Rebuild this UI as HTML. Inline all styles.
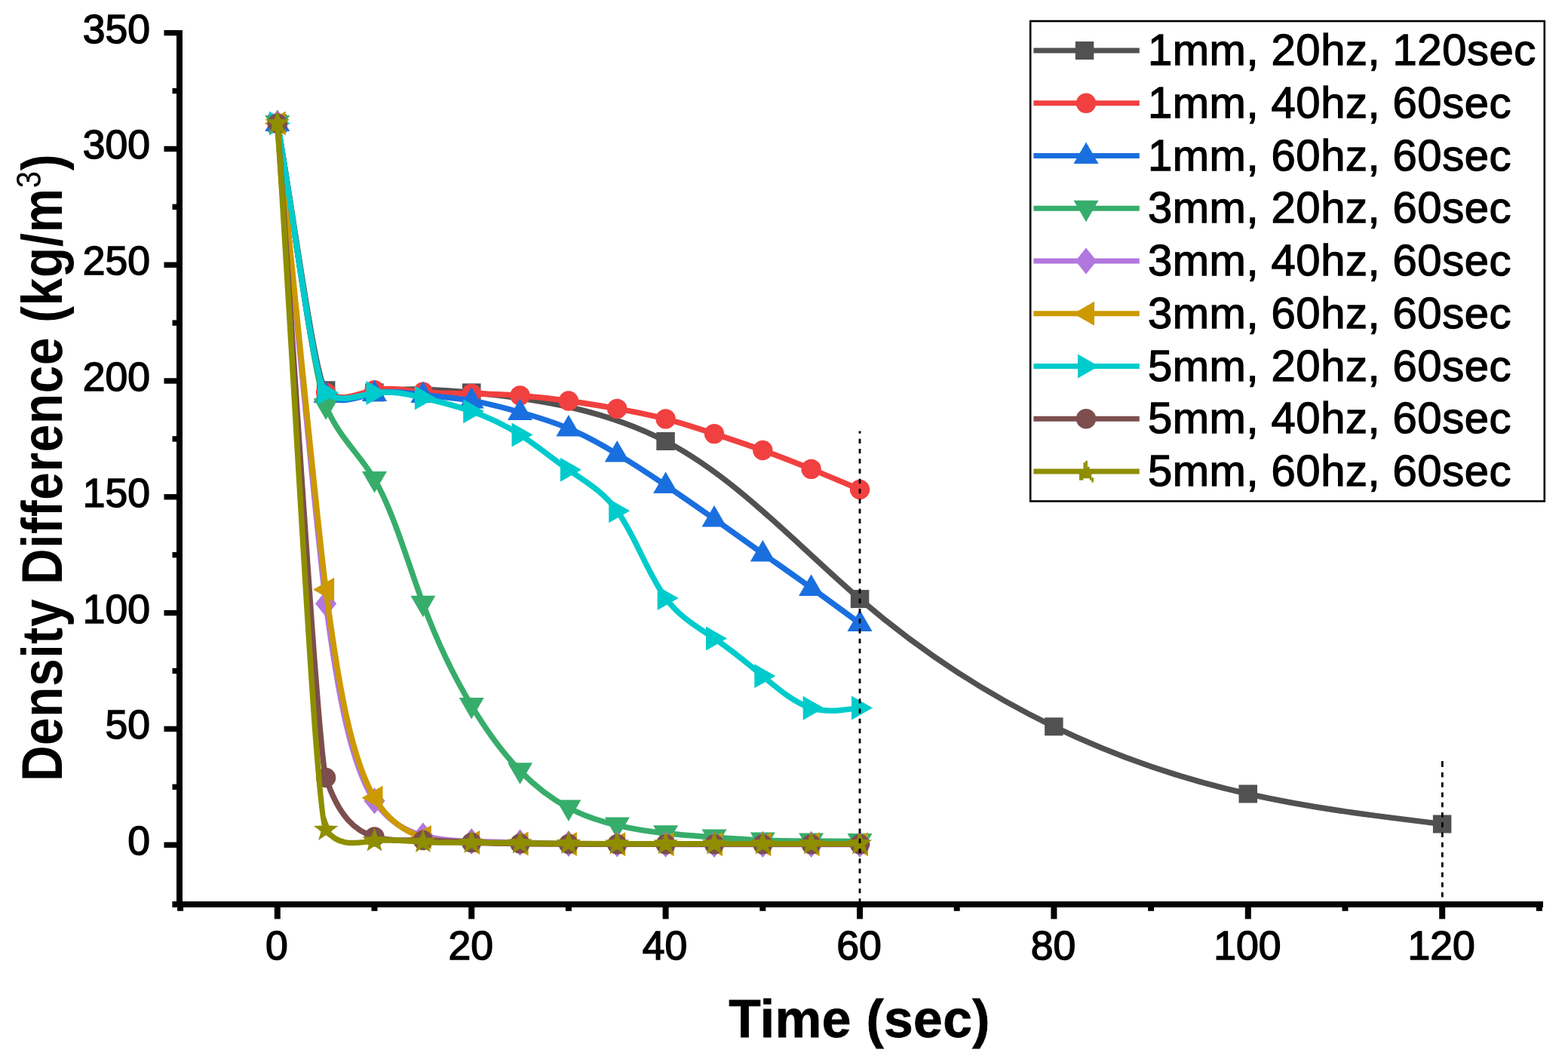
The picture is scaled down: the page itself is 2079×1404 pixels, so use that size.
<!DOCTYPE html><html><head><meta charset="utf-8"><title>Density Difference vs Time</title><style>html,body{margin:0;padding:0;background:#fff;}svg{display:block;}</style></head><body>
<svg width="2079" height="1404" viewBox="0 0 2079 1404" font-family='"Liberation Sans", Arial, sans-serif'>
<rect width="2079" height="1404" fill="#fff"/>
<path d="M367.8 163.6 C389.2 281.5 416.9 502.2 432.1 517.3 C449.2 534.2 471.2 525.1 496.5 520.4 C531.1 513.9 571.8 515.5 625.2 520.4 C699.1 527.2 797.3 540.4 882.6 585.0 C976.9 634.2 1055.7 721.7 1140.0 794.1 C1221.6 864.3 1308.4 920.4 1397.4 963.3 C1481.6 1004.0 1567.8 1032.9 1654.8 1052.5 C1740.1 1071.8 1826.1 1082.1 1912.2 1092.5" fill="none" stroke="#515151" stroke-width="7.5" stroke-linejoin="round"/>
<rect x="355.6" y="151.6" width="24.5" height="24" fill="#515151"/>
<rect x="419.9" y="505.3" width="24.5" height="24" fill="#515151"/>
<rect x="484.2" y="508.4" width="24.5" height="24" fill="#515151"/>
<rect x="613.0" y="508.4" width="24.5" height="24" fill="#515151"/>
<rect x="870.3" y="573.0" width="24.5" height="24" fill="#515151"/>
<rect x="1127.8" y="782.1" width="24.5" height="24" fill="#515151"/>
<rect x="1385.1" y="951.3" width="24.5" height="24" fill="#515151"/>
<rect x="1642.5" y="1040.5" width="24.5" height="24" fill="#515151"/>
<rect x="1899.9" y="1080.5" width="24.5" height="24" fill="#515151"/>
<path d="M367.8 163.6 C389.2 282.5 415.4 507.0 432.1 520.4 C450.3 534.9 474.2 521.6 496.5 517.3 C518.8 513.0 539.6 517.6 560.9 519.8 C582.1 521.9 603.7 521.7 625.2 521.9 C646.7 522.1 668.1 522.8 689.5 524.4 C711.0 526.0 732.5 528.4 753.9 531.5 C775.4 534.5 796.8 538.1 818.2 541.9 C839.8 545.8 861.3 549.9 882.6 555.4 C904.2 561.0 925.6 568.1 947.0 575.1 C968.4 582.2 989.9 589.3 1011.3 597.0 C1032.8 604.7 1054.3 613.1 1075.6 621.9 C1097.1 630.7 1118.6 639.8 1140.0 649.0" fill="none" stroke="#F14040" stroke-width="7.5" stroke-linejoin="round"/>
<circle cx="367.8" cy="163.6" r="13.2" fill="#F14040"/>
<circle cx="432.1" cy="520.4" r="13.2" fill="#F14040"/>
<circle cx="496.5" cy="517.3" r="13.2" fill="#F14040"/>
<circle cx="560.9" cy="519.8" r="13.2" fill="#F14040"/>
<circle cx="625.2" cy="521.9" r="13.2" fill="#F14040"/>
<circle cx="689.5" cy="524.4" r="13.2" fill="#F14040"/>
<circle cx="753.9" cy="531.5" r="13.2" fill="#F14040"/>
<circle cx="818.2" cy="541.9" r="13.2" fill="#F14040"/>
<circle cx="882.6" cy="555.4" r="13.2" fill="#F14040"/>
<circle cx="947.0" cy="575.1" r="13.2" fill="#F14040"/>
<circle cx="1011.3" cy="597.0" r="13.2" fill="#F14040"/>
<circle cx="1075.6" cy="621.9" r="13.2" fill="#F14040"/>
<circle cx="1140.0" cy="649.0" r="13.2" fill="#F14040"/>
<path d="M367.8 163.6 C389.2 283.5 415.6 509.8 432.1 523.5 C450.3 538.4 474.2 526.0 496.5 521.6 C518.8 517.2 539.6 520.9 560.9 523.5 C582.1 526.0 603.8 527.6 625.2 531.1 C646.8 534.8 668.2 540.5 689.5 546.5 C711.2 552.6 732.7 559.1 753.9 568.1 C775.7 577.3 797.1 589.1 818.2 601.9 C839.9 615.0 861.3 629.0 882.6 643.4 C904.1 658.0 925.6 672.9 947.0 688.0 C968.4 703.2 989.8 718.6 1011.3 733.9 C1032.7 749.0 1054.2 764.0 1075.6 779.4 C1097.2 794.8 1118.6 810.6 1140.0 826.4" fill="none" stroke="#1A6FDF" stroke-width="7.5" stroke-linejoin="round"/>
<polygon points="367.8,145.6 384.3,174.1 351.3,174.1" fill="#1A6FDF"/>
<polygon points="432.1,505.5 448.6,534.0 415.6,534.0" fill="#1A6FDF"/>
<polygon points="496.5,503.6 513.0,532.1 480.0,532.1" fill="#1A6FDF"/>
<polygon points="560.9,505.5 577.4,534.0 544.4,534.0" fill="#1A6FDF"/>
<polygon points="625.2,513.1 641.7,541.6 608.7,541.6" fill="#1A6FDF"/>
<polygon points="689.5,528.5 706.0,557.0 673.0,557.0" fill="#1A6FDF"/>
<polygon points="753.9,550.1 770.4,578.6 737.4,578.6" fill="#1A6FDF"/>
<polygon points="818.2,583.9 834.8,612.4 801.8,612.4" fill="#1A6FDF"/>
<polygon points="882.6,625.4 899.1,653.9 866.1,653.9" fill="#1A6FDF"/>
<polygon points="947.0,670.0 963.5,698.5 930.5,698.5" fill="#1A6FDF"/>
<polygon points="1011.3,715.9 1027.8,744.4 994.8,744.4" fill="#1A6FDF"/>
<polygon points="1075.6,761.4 1092.1,789.9 1059.1,789.9" fill="#1A6FDF"/>
<polygon points="1140.0,808.4 1156.5,836.9 1123.5,836.9" fill="#1A6FDF"/>
<path d="M367.8 163.6 C389.2 288.7 416.7 503.4 432.1 538.8 C451.2 582.7 476.0 600.7 496.5 635.4 C521.3 677.4 539.9 743.7 560.9 800.3 C580.3 852.8 601.9 897.0 625.2 935.6 C645.2 968.9 666.5 998.1 689.5 1021.8 C709.8 1042.6 731.4 1059.1 753.9 1071.0 C774.8 1082.0 796.4 1088.9 818.2 1094.1 C839.6 1099.1 861.1 1102.5 882.6 1104.8 C904.0 1107.2 925.5 1108.5 947.0 1110.0 C968.4 1111.6 989.8 1113.2 1011.3 1114.0 C1032.7 1114.9 1054.2 1114.9 1075.6 1115.0 C1097.1 1115.1 1118.6 1115.3 1140.0 1115.6" fill="none" stroke="#37AD6B" stroke-width="7.5" stroke-linejoin="round"/>
<polygon points="367.8,181.6 384.3,153.1 351.3,153.1" fill="#37AD6B"/>
<polygon points="432.1,556.8 448.6,528.3 415.6,528.3" fill="#37AD6B"/>
<polygon points="496.5,653.4 513.0,624.9 480.0,624.9" fill="#37AD6B"/>
<polygon points="560.9,818.3 577.4,789.8 544.4,789.8" fill="#37AD6B"/>
<polygon points="625.2,953.6 641.7,925.1 608.7,925.1" fill="#37AD6B"/>
<polygon points="689.5,1039.8 706.0,1011.3 673.0,1011.3" fill="#37AD6B"/>
<polygon points="753.9,1089.0 770.4,1060.5 737.4,1060.5" fill="#37AD6B"/>
<polygon points="818.2,1112.1 834.8,1083.6 801.8,1083.6" fill="#37AD6B"/>
<polygon points="882.6,1122.8 899.1,1094.3 866.1,1094.3" fill="#37AD6B"/>
<polygon points="947.0,1128.0 963.5,1099.5 930.5,1099.5" fill="#37AD6B"/>
<polygon points="1011.3,1132.0 1027.8,1103.5 994.8,1103.5" fill="#37AD6B"/>
<polygon points="1075.6,1133.0 1092.1,1104.5 1059.1,1104.5" fill="#37AD6B"/>
<polygon points="1140.0,1133.6 1156.5,1105.1 1123.5,1105.1" fill="#37AD6B"/>
<path d="M367.8 163.6 C389.2 375.8 420.4 711.3 432.1 800.3 C447.9 919.5 465.0 1013.9 496.5 1061.8 C514.6 1089.3 537.6 1101.5 560.9 1107.9 C582.1 1113.8 603.7 1114.9 625.2 1115.6 C646.7 1116.3 668.1 1116.7 689.5 1117.1 C711.0 1117.6 732.4 1118.0 753.9 1118.4 C775.4 1118.7 796.8 1118.8 818.2 1119.0 C839.7 1119.1 861.1 1119.2 882.6 1119.3 C904.1 1119.4 925.5 1119.5 947.0 1119.6 C968.4 1119.6 989.8 1119.6 1011.3 1119.6 C1032.8 1119.6 1054.2 1119.6 1075.6 1119.6 C1097.1 1119.6 1118.5 1119.6 1140.0 1119.6" fill="none" stroke="#B177DE" stroke-width="7.5" stroke-linejoin="round"/>
<polygon points="367.8,146.1 381.8,163.6 367.8,181.1 353.8,163.6" fill="#B177DE"/>
<polygon points="432.1,782.8 446.1,800.3 432.1,817.8 418.1,800.3" fill="#B177DE"/>
<polygon points="496.5,1044.3 510.5,1061.8 496.5,1079.3 482.5,1061.8" fill="#B177DE"/>
<polygon points="560.9,1090.4 574.9,1107.9 560.9,1125.4 546.9,1107.9" fill="#B177DE"/>
<polygon points="625.2,1098.1 639.2,1115.6 625.2,1133.1 611.2,1115.6" fill="#B177DE"/>
<polygon points="689.5,1099.6 703.5,1117.1 689.5,1134.6 675.5,1117.1" fill="#B177DE"/>
<polygon points="753.9,1100.9 767.9,1118.4 753.9,1135.9 739.9,1118.4" fill="#B177DE"/>
<polygon points="818.2,1101.5 832.2,1119.0 818.2,1136.5 804.2,1119.0" fill="#B177DE"/>
<polygon points="882.6,1101.8 896.6,1119.3 882.6,1136.8 868.6,1119.3" fill="#B177DE"/>
<polygon points="947.0,1102.1 961.0,1119.6 947.0,1137.1 933.0,1119.6" fill="#B177DE"/>
<polygon points="1011.3,1102.1 1025.3,1119.6 1011.3,1137.1 997.3,1119.6" fill="#B177DE"/>
<polygon points="1075.6,1102.1 1089.6,1119.6 1075.6,1137.1 1061.6,1119.6" fill="#B177DE"/>
<polygon points="1140.0,1102.1 1154.0,1119.6 1140.0,1137.1 1126.0,1119.6" fill="#B177DE"/>
<path d="M367.8 163.6 C389.2 369.7 420.0 688.2 432.1 781.8 C448.2 904.8 465.2 1004.9 496.5 1057.8 C514.5 1088.2 537.3 1102.9 560.9 1110.0 C581.9 1116.4 603.6 1116.7 625.2 1117.1 C646.7 1117.5 668.1 1118.0 689.5 1118.4 C711.0 1118.7 732.4 1118.8 753.9 1119.0 C775.4 1119.1 796.8 1119.2 818.2 1119.3 C839.7 1119.3 861.1 1119.3 882.6 1119.3 C904.1 1119.3 925.5 1119.3 947.0 1119.3 C968.4 1119.3 989.8 1119.3 1011.3 1119.3 C1032.8 1119.3 1054.2 1119.3 1075.6 1119.3 C1097.1 1119.3 1118.5 1119.3 1140.0 1119.3" fill="none" stroke="#CC9900" stroke-width="7.5" stroke-linejoin="round"/>
<polygon points="350.8,163.6 378.8,147.6 378.8,179.6" fill="#CC9900"/>
<polygon points="415.1,781.8 443.1,765.8 443.1,797.8" fill="#CC9900"/>
<polygon points="479.5,1057.8 507.5,1041.8 507.5,1073.8" fill="#CC9900"/>
<polygon points="543.9,1110.0 571.9,1094.0 571.9,1126.0" fill="#CC9900"/>
<polygon points="608.2,1117.1 636.2,1101.1 636.2,1133.1" fill="#CC9900"/>
<polygon points="672.5,1118.4 700.5,1102.4 700.5,1134.4" fill="#CC9900"/>
<polygon points="736.9,1119.0 764.9,1103.0 764.9,1135.0" fill="#CC9900"/>
<polygon points="801.2,1119.3 829.2,1103.3 829.2,1135.3" fill="#CC9900"/>
<polygon points="865.6,1119.3 893.6,1103.3 893.6,1135.3" fill="#CC9900"/>
<polygon points="930.0,1119.3 958.0,1103.3 958.0,1135.3" fill="#CC9900"/>
<polygon points="994.3,1119.3 1022.3,1103.3 1022.3,1135.3" fill="#CC9900"/>
<polygon points="1058.6,1119.3 1086.6,1103.3 1086.6,1135.3" fill="#CC9900"/>
<polygon points="1123.0,1119.3 1151.0,1103.3 1151.0,1135.3" fill="#CC9900"/>
<path d="M367.8 163.6 C389.2 282.5 415.8 506.5 432.1 520.4 C450.3 535.9 474.2 524.4 496.5 521.0 C518.9 517.6 539.8 522.4 560.9 527.5 C582.3 532.5 603.9 537.8 625.2 545.3 C647.2 553.0 668.8 563.1 689.5 576.4 C711.3 590.3 732.3 607.8 753.9 622.8 C776.1 638.3 799.2 651.1 818.2 677.3 C841.6 709.2 859.1 761.1 882.6 792.9 C901.7 818.8 924.8 831.4 947.0 846.4 C968.9 861.3 990.0 878.4 1011.3 896.3 C1032.1 913.7 1053.2 931.9 1075.6 938.7 C1096.3 945.0 1118.2 941.7 1140.0 938.4" fill="none" stroke="#00CBCC" stroke-width="7.5" stroke-linejoin="round"/>
<polygon points="384.8,163.6 356.8,147.6 356.8,179.6" fill="#00CBCC"/>
<polygon points="449.1,520.4 421.1,504.4 421.1,536.4" fill="#00CBCC"/>
<polygon points="513.5,521.0 485.5,505.0 485.5,537.0" fill="#00CBCC"/>
<polygon points="577.9,527.5 549.9,511.5 549.9,543.5" fill="#00CBCC"/>
<polygon points="642.2,545.3 614.2,529.3 614.2,561.3" fill="#00CBCC"/>
<polygon points="706.5,576.4 678.5,560.4 678.5,592.4" fill="#00CBCC"/>
<polygon points="770.9,622.8 742.9,606.8 742.9,638.8" fill="#00CBCC"/>
<polygon points="835.2,677.3 807.2,661.3 807.2,693.3" fill="#00CBCC"/>
<polygon points="899.6,792.9 871.6,776.9 871.6,808.9" fill="#00CBCC"/>
<polygon points="964.0,846.4 936.0,830.4 936.0,862.4" fill="#00CBCC"/>
<polygon points="1028.3,896.3 1000.3,880.3 1000.3,912.3" fill="#00CBCC"/>
<polygon points="1092.6,938.7 1064.6,922.7 1064.6,954.7" fill="#00CBCC"/>
<polygon points="1157.0,938.4 1129.0,922.4 1129.0,954.4" fill="#00CBCC"/>
<path d="M367.8 163.6 C389.2 452.7 421.6 998.9 432.1 1031.0 C449.3 1083.0 471.5 1102.0 496.5 1109.4 C516.9 1115.5 539.1 1113.9 560.9 1114.0 C582.6 1114.2 603.8 1116.1 625.2 1117.1 C646.6 1118.1 668.1 1118.2 689.5 1118.4 C711.0 1118.5 732.5 1118.8 753.9 1119.0 C775.3 1119.1 796.8 1119.2 818.2 1119.3 C839.7 1119.3 861.2 1119.3 882.6 1119.3 C904.0 1119.3 925.5 1119.3 947.0 1119.3 C968.4 1119.3 989.9 1119.3 1011.3 1119.3 C1032.7 1119.3 1054.2 1119.3 1075.6 1119.3 C1097.1 1119.3 1118.6 1119.3 1140.0 1119.3" fill="none" stroke="#7D4E4E" stroke-width="7.5" stroke-linejoin="round"/>
<circle cx="367.8" cy="163.6" r="13.2" fill="#7D4E4E"/>
<circle cx="432.1" cy="1031.0" r="13.2" fill="#7D4E4E"/>
<circle cx="496.5" cy="1109.4" r="13.2" fill="#7D4E4E"/>
<circle cx="560.9" cy="1114.0" r="13.2" fill="#7D4E4E"/>
<circle cx="625.2" cy="1117.1" r="13.2" fill="#7D4E4E"/>
<circle cx="689.5" cy="1118.4" r="13.2" fill="#7D4E4E"/>
<circle cx="753.9" cy="1119.0" r="13.2" fill="#7D4E4E"/>
<circle cx="818.2" cy="1119.3" r="13.2" fill="#7D4E4E"/>
<circle cx="882.6" cy="1119.3" r="13.2" fill="#7D4E4E"/>
<circle cx="947.0" cy="1119.3" r="13.2" fill="#7D4E4E"/>
<circle cx="1011.3" cy="1119.3" r="13.2" fill="#7D4E4E"/>
<circle cx="1075.6" cy="1119.3" r="13.2" fill="#7D4E4E"/>
<circle cx="1140.0" cy="1119.3" r="13.2" fill="#7D4E4E"/>
<path d="M367.8 163.6 C389.2 475.8 418.9 1082.6 432.1 1100.2 C450.4 1124.5 474.1 1117.0 496.5 1114.7 C518.7 1112.3 539.6 1115.0 560.9 1116.2 C582.1 1117.4 603.7 1117.1 625.2 1117.1 C646.7 1117.1 668.1 1117.5 689.5 1117.7 C711.0 1118.0 732.4 1118.2 753.9 1118.4 C775.4 1118.5 796.8 1118.6 818.2 1118.7 C839.7 1118.7 861.1 1118.7 882.6 1118.7 C904.1 1118.7 925.5 1118.7 947.0 1118.7 C968.4 1118.7 989.8 1118.7 1011.3 1118.7 C1032.8 1118.7 1054.2 1118.7 1075.6 1118.7 C1097.1 1118.7 1118.5 1118.7 1140.0 1118.7" fill="none" stroke="#8E8E00" stroke-width="7.5" stroke-linejoin="round"/>
<polygon points="367.8,146.6 371.9,157.9 384.0,158.3 374.5,165.7 377.8,177.3 367.8,170.6 357.8,177.3 361.1,165.7 351.6,158.3 363.7,157.9" fill="#8E8E00"/>
<polygon points="432.1,1083.2 436.3,1094.5 448.3,1095.0 438.8,1102.4 442.1,1114.0 432.1,1107.2 422.2,1114.0 425.5,1102.4 416.0,1095.0 428.0,1094.5" fill="#8E8E00"/>
<polygon points="496.5,1097.7 500.6,1109.0 512.7,1109.4 503.2,1116.8 506.5,1128.4 496.5,1121.7 486.5,1128.4 489.8,1116.8 480.3,1109.4 492.4,1109.0" fill="#8E8E00"/>
<polygon points="560.9,1099.2 565.0,1110.5 577.0,1110.9 567.5,1118.4 570.8,1130.0 560.9,1123.2 550.9,1130.0 554.2,1118.4 544.7,1110.9 556.7,1110.5" fill="#8E8E00"/>
<polygon points="625.2,1100.1 629.3,1111.5 641.4,1111.9 631.9,1119.3 635.2,1130.9 625.2,1124.1 615.2,1130.9 618.5,1119.3 609.0,1111.9 621.1,1111.5" fill="#8E8E00"/>
<polygon points="689.5,1100.7 693.7,1112.1 705.7,1112.5 696.2,1119.9 699.5,1131.5 689.5,1124.7 679.6,1131.5 682.9,1119.9 673.4,1112.5 685.4,1112.1" fill="#8E8E00"/>
<polygon points="753.9,1101.4 758.0,1112.7 770.1,1113.1 760.6,1120.5 763.9,1132.1 753.9,1125.4 743.9,1132.1 747.2,1120.5 737.7,1113.1 749.8,1112.7" fill="#8E8E00"/>
<polygon points="818.2,1101.7 822.4,1113.0 834.4,1113.4 824.9,1120.8 828.2,1132.4 818.2,1125.7 808.3,1132.4 811.6,1120.8 802.1,1113.4 814.1,1113.0" fill="#8E8E00"/>
<polygon points="882.6,1101.7 886.7,1113.0 898.8,1113.4 889.3,1120.8 892.6,1132.4 882.6,1125.7 872.6,1132.4 875.9,1120.8 866.4,1113.4 878.5,1113.0" fill="#8E8E00"/>
<polygon points="947.0,1101.7 951.1,1113.0 963.1,1113.4 953.6,1120.8 956.9,1132.4 947.0,1125.7 937.0,1132.4 940.3,1120.8 930.8,1113.4 942.8,1113.0" fill="#8E8E00"/>
<polygon points="1011.3,1101.7 1015.4,1113.0 1027.5,1113.4 1018.0,1120.8 1021.3,1132.4 1011.3,1125.7 1001.3,1132.4 1004.6,1120.8 995.1,1113.4 1007.2,1113.0" fill="#8E8E00"/>
<polygon points="1075.6,1101.7 1079.8,1113.0 1091.8,1113.4 1082.3,1120.8 1085.6,1132.4 1075.6,1125.7 1065.7,1132.4 1069.0,1120.8 1059.5,1113.4 1071.5,1113.0" fill="#8E8E00"/>
<polygon points="1140.0,1101.7 1144.1,1113.0 1156.2,1113.4 1146.7,1120.8 1150.0,1132.4 1140.0,1125.7 1130.0,1132.4 1133.3,1120.8 1123.8,1113.4 1135.9,1113.0" fill="#8E8E00"/>
<line x1="1140" y1="571.4" x2="1140" y2="1195" stroke="#000" stroke-width="2.8" stroke-dasharray="6.4 6.85" stroke-dashoffset="3.0"/>
<rect x="1911" y="1009" width="2.8" height="7.9" fill="#000"/>
<line x1="1912.4" y1="1024.05" x2="1912.4" y2="1195" stroke="#000" stroke-width="2.8" stroke-dasharray="6.4 6.85"/>
<g fill="#000">
<rect x="234" y="40" width="8" height="1163"/>
<rect x="228.4" y="1195" width="1817.6" height="8"/>
<rect x="217.5" y="1116.5" width="17" height="7.4"/>
<rect x="217.5" y="962.7" width="17" height="7.4"/>
<rect x="217.5" y="808.9" width="17" height="7.4"/>
<rect x="217.5" y="655.1" width="17" height="7.4"/>
<rect x="217.5" y="501.3" width="17" height="7.4"/>
<rect x="217.5" y="347.5" width="17" height="7.4"/>
<rect x="217.5" y="193.7" width="17" height="7.4"/>
<rect x="217.5" y="39.9" width="17" height="7.4"/>
<rect x="228.5" y="1039.6" width="6" height="7.4"/>
<rect x="228.5" y="885.8" width="6" height="7.4"/>
<rect x="228.5" y="732.0" width="6" height="7.4"/>
<rect x="228.5" y="578.2" width="6" height="7.4"/>
<rect x="228.5" y="424.4" width="6" height="7.4"/>
<rect x="228.5" y="270.6" width="6" height="7.4"/>
<rect x="228.5" y="116.8" width="6" height="7.4"/>
<rect x="363.8" y="1202" width="8" height="16.4"/>
<rect x="621.2" y="1202" width="8" height="16.4"/>
<rect x="878.6" y="1202" width="8" height="16.4"/>
<rect x="1136.0" y="1202" width="8" height="16.4"/>
<rect x="1393.4" y="1202" width="8" height="16.4"/>
<rect x="1650.8" y="1202" width="8" height="16.4"/>
<rect x="1908.2" y="1202" width="8" height="16.4"/>
<rect x="235.1" y="1202" width="8" height="5.8"/>
<rect x="492.5" y="1202" width="8" height="5.8"/>
<rect x="749.9" y="1202" width="8" height="5.8"/>
<rect x="1007.3" y="1202" width="8" height="5.8"/>
<rect x="1264.7" y="1202" width="8" height="5.8"/>
<rect x="1522.1" y="1202" width="8" height="5.8"/>
<rect x="1779.5" y="1202" width="8" height="5.8"/>
<rect x="2036.9" y="1202" width="8" height="5.8"/>
</g>
<g font-size="53.5" fill="#000" stroke="#000" stroke-width="1.5" text-anchor="end">
<text x="199" y="1133.2">0</text>
<text x="199" y="979.4">50</text>
<text x="199" y="825.6">100</text>
<text x="199" y="671.8">150</text>
<text x="199" y="518.0">200</text>
<text x="199" y="364.2">250</text>
<text x="199" y="210.4">300</text>
<text x="199" y="56.6">350</text>
</g>
<g font-size="53.5" fill="#000" stroke="#000" stroke-width="1.5" text-anchor="middle">
<text x="366.8" y="1272">0</text>
<text x="624.2" y="1272">20</text>
<text x="881.6" y="1272">40</text>
<text x="1139.0" y="1272">60</text>
<text x="1396.4" y="1272">80</text>
<text x="1653.8" y="1272">100</text>
<text x="1911.2" y="1272">120</text>
</g>
<text x="1139.5" y="1375" font-size="69.5" letter-spacing="0.4" font-weight="bold" stroke="#000" stroke-width="0.8" text-anchor="middle">Time (sec)</text>
<text transform="translate(82,1036) rotate(-90) scale(0.87,1)" font-size="75.5" letter-spacing="0.8" font-weight="bold">Density Difference (kg/m<tspan font-size="46" font-weight="normal" dy="-28">3</tspan><tspan dy="28">)</tspan></text>
<rect x="1366.2" y="28" width="681.6" height="636.5" fill="none" stroke="#000" stroke-width="2.6"/>
<line x1="1370.4" y1="67.0" x2="1510.8" y2="67.0" stroke="#515151" stroke-width="7"/>
<rect x="1425.8" y="55.0" width="24.5" height="24" fill="#515151"/>
<text x="1522" y="86.3" font-size="58" letter-spacing="0.5" stroke="#000" stroke-width="1.3">1mm, 20hz, 120sec</text>
<line x1="1370.4" y1="136.8" x2="1510.8" y2="136.8" stroke="#F14040" stroke-width="7"/>
<circle cx="1440.0" cy="136.8" r="13.2" fill="#F14040"/>
<text x="1522" y="156.0" font-size="58" letter-spacing="0.5" stroke="#000" stroke-width="1.3">1mm, 40hz, 60sec</text>
<line x1="1370.4" y1="206.5" x2="1510.8" y2="206.5" stroke="#1A6FDF" stroke-width="7"/>
<polygon points="1440.0,188.5 1456.5,217.0 1423.5,217.0" fill="#1A6FDF"/>
<text x="1522" y="225.7" font-size="58" letter-spacing="0.5" stroke="#000" stroke-width="1.3">1mm, 60hz, 60sec</text>
<line x1="1370.4" y1="276.2" x2="1510.8" y2="276.2" stroke="#37AD6B" stroke-width="7"/>
<polygon points="1440.0,294.2 1456.5,265.8 1423.5,265.8" fill="#37AD6B"/>
<text x="1522" y="295.4" font-size="58" letter-spacing="0.5" stroke="#000" stroke-width="1.3">3mm, 20hz, 60sec</text>
<line x1="1370.4" y1="346.0" x2="1510.8" y2="346.0" stroke="#B177DE" stroke-width="7"/>
<polygon points="1440.0,328.5 1454.0,346.0 1440.0,363.5 1426.0,346.0" fill="#B177DE"/>
<text x="1522" y="365.1" font-size="58" letter-spacing="0.5" stroke="#000" stroke-width="1.3">3mm, 40hz, 60sec</text>
<line x1="1370.4" y1="415.8" x2="1510.8" y2="415.8" stroke="#CC9900" stroke-width="7"/>
<polygon points="1423.0,415.8 1451.0,399.8 1451.0,431.8" fill="#CC9900"/>
<text x="1522" y="434.8" font-size="58" letter-spacing="0.5" stroke="#000" stroke-width="1.3">3mm, 60hz, 60sec</text>
<line x1="1370.4" y1="485.5" x2="1510.8" y2="485.5" stroke="#00CBCC" stroke-width="7"/>
<polygon points="1457.0,485.5 1429.0,469.5 1429.0,501.5" fill="#00CBCC"/>
<text x="1522" y="504.5" font-size="58" letter-spacing="0.5" stroke="#000" stroke-width="1.3">5mm, 20hz, 60sec</text>
<line x1="1370.4" y1="555.2" x2="1510.8" y2="555.2" stroke="#7D4E4E" stroke-width="7"/>
<circle cx="1440.0" cy="555.2" r="13.2" fill="#7D4E4E"/>
<text x="1522" y="574.2" font-size="58" letter-spacing="0.5" stroke="#000" stroke-width="1.3">5mm, 40hz, 60sec</text>
<line x1="1370.4" y1="625.0" x2="1510.8" y2="625.0" stroke="#8E8E00" stroke-width="7"/>
<rect x="1439.2" y="610.9" width="2.7" height="12.0" fill="#8E8E00"/>
<rect x="1436.5" y="613.2" width="2.7" height="10.0" fill="#8E8E00"/>
<rect x="1441.9" y="618.9" width="2.8" height="4.0" fill="#8E8E00"/>
<rect x="1431.0" y="627.0" width="16.2" height="7.2" fill="#8E8E00"/>
<rect x="1431.0" y="633.0" width="5.4" height="3.7" fill="#8E8E00"/>
<rect x="1444.9" y="633.0" width="2.5" height="3.7" fill="#8E8E00"/>
<rect x="1447.4" y="633.0" width="2.5" height="6.5" fill="#8E8E00"/>
<text x="1522" y="643.9" font-size="58" letter-spacing="0.5" stroke="#000" stroke-width="1.3">5mm, 60hz, 60sec</text>
</svg></body></html>
